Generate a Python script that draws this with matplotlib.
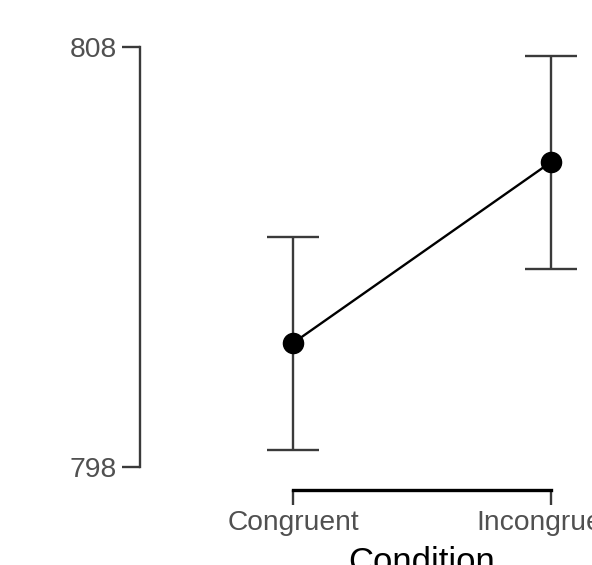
import matplotlib
matplotlib.use("Agg")
import matplotlib.pyplot as plt

conditions = ["Congruent", "Incongruent"]
means = [800.95, 805.26]
lower = [798.40, 802.71]
upper = [803.48, 807.79]
y_ticks = [798, 808]

plt.rcParams['font.family'] = ['Liberation Sans', 'DejaVu Sans']

W, H = 592, 565
fig = plt.figure(figsize=(W / 100, H / 100), dpi=100)
ax = fig.add_axes([140 / W, (H - 467) / H, (650 - 140) / W, 420 / H])

x = list(range(len(conditions)))
yerr = [[m - l for m, l in zip(means, lower)], [u - m for m, u in zip(means, upper)]]
ax.errorbar(x, means, yerr=yerr, fmt='none', ecolor='#3a3a3a', elinewidth=1.7,
            capsize=18.5, capthick=1.7, zorder=2)
ax.plot(x, means, color='black', lw=1.7, zorder=3)
ax.plot(x, means, 'o', color='black', ms=14.5, zorder=4)

ax.set_xlim(-0.593, 1.384)
ax.set_ylim(798, 808)
ax.set_xticks(x)
ax.set_xticklabels(conditions)
ax.set_yticks(y_ticks)

for s in ['top', 'right']:
    ax.spines[s].set_visible(False)
ax.spines['left'].set_bounds(798, 808)
ax.spines['left'].set_color('#3a3a3a')
ax.spines['left'].set_linewidth(1.7)
ax.spines['bottom'].set_bounds(0, 1)
ax.spines['bottom'].set_position(('outward', 23 * 0.72))
ax.spines['bottom'].set_linewidth(2.4)
ax.spines['bottom'].set_color('black')

ax.tick_params(axis='y', length=13, width=1.7, color='#3a3a3a', pad=3.4,
               labelsize=20.3, labelcolor='#505050')
ax.tick_params(axis='x', length=11, width=1.7, color='#3a3a3a', pad=3.5,
               labelsize=20.3, labelcolor='#505050')

ax.set_xlabel('Condition', fontsize=25, color='black')
ax.xaxis.set_label_coords((422 - 140) / 510, (467 - 546) / 420)

fig.savefig('out.png', dpi=100)
